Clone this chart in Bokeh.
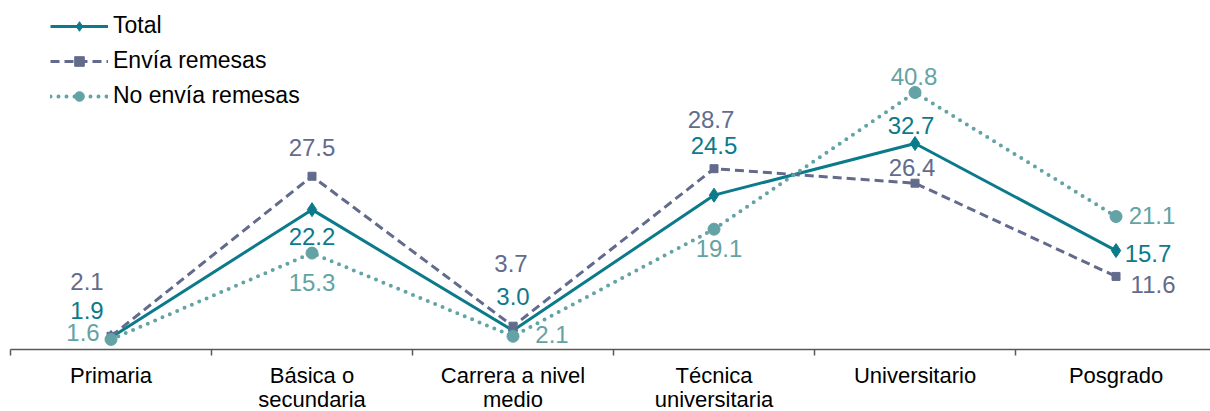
from bokeh.plotting import figure
from bokeh.models import Range1d, FixedTicker, ColumnDataSource, Legend, LegendItem
from bokeh.core.properties import value
from bokeh.embed import file_html
from bokeh.resources import INLINE

categories = ["Primaria", "Básica o\nsecundaria", "Carrera a nivel\nmedio",
              "Técnica\nuniversitaria", "Universitario", "Posgrado"]
total = [1.9, 22.2, 3.0, 24.5, 32.7, 15.7]
envia = [2.1, 27.5, 3.7, 28.7, 26.4, 11.6]
no_envia = [1.6, 15.3, 2.1, 19.1, 40.8, 21.1]
series_names = ["Total", "Envía remesas", "No envía remesas"]

# label offsets in px (style, not data)
off_total = [(-24, -27), (0, 27), (0, -34), (0, -50), (-4, -18), (32, 3)]
off_envia = [(-24, -55), (0, -29), (-2, -63), (-3, -49), (-3, -16), (37, 8)]
off_no = [(-28, -7), (0, 29), (39, -2), (5, 19), (-1, -16), (36, -1)]

FONT = "Liberation Sans"
C_TOTAL = "#0b7a8a"
C_ENVIA = "#636b8d"
C_NO = "#63a3a5"

xs = list(range(len(categories)))

p = figure(width=1210, height=414, output_backend="svg", toolbar_location=None,
           x_range=Range1d(-0.5, 5.47), y_range=Range1d(0, 55.4),
           min_border_left=10, min_border_right=0, min_border_top=0, min_border_bottom=62,
           styles={"margin-bottom": "-30px"})
p.outline_line_color = None
p.xgrid.visible = False
p.ygrid.visible = False
p.yaxis.visible = False
p.background_fill_color = "white"
p.border_fill_color = "white"

xa = p.xaxis[0]
xa.ticker = FixedTicker(ticks=xs, minor_ticks=[i - 0.5 for i in range(len(categories) + 1)])
xa.major_label_overrides = {i: c for i, c in enumerate(categories)}
xa.major_tick_out = 0
xa.major_tick_in = 0
xa.minor_tick_out = 6
xa.minor_tick_in = 0
xa.minor_tick_line_color = "#595959"
xa.axis_line_color = "#595959"
xa.axis_line_width = 1.5
xa.minor_tick_line_width = 1.5
xa.major_label_text_font = FONT
xa.major_label_text_font_size = "22px"
xa.major_label_text_color = "#000000"
xa.major_label_standoff = 7
xa.major_label_text_line_height = 0.96

# lines
l_tot = p.line(xs, total, line_color=C_TOTAL, line_width=3)
m_tot = p.scatter(xs, total, marker="diamond", size=14,
                  fill_color=C_TOTAL, line_color=C_TOTAL)
l_env = p.line(xs, envia, line_color=C_ENVIA, line_width=3, line_dash="9 5")
m_env = p.scatter(xs, envia, marker="square", size=8, fill_color=C_ENVIA, line_color=C_ENVIA)
l_no = p.line(xs, no_envia, line_color=C_NO, line_width=4, line_dash="0 8", line_cap="round")
m_no = p.scatter(xs, no_envia, marker="circle", size=12, fill_color=C_NO, line_color=C_NO)

def add_labels(vals, offs, color):
    src = ColumnDataSource(dict(x=xs, y=vals, t=[f"{v:.1f}" for v in vals],
                                dx=[o[0] for o in offs], dy=[o[1] for o in offs]))
    p.text(x="x", y="y", text="t", x_offset="dx", y_offset="dy", source=src,
           text_align="center", text_baseline="middle", text_color=color,
           text_font=value(FONT), text_font_size="24px")

add_labels(envia, off_envia, C_ENVIA)
add_labels(no_envia, off_no, C_NO)
add_labels(total, off_total, C_TOTAL)

legend = Legend(items=[LegendItem(label=series_names[0], renderers=[l_tot, m_tot]),
                       LegendItem(label=series_names[1], renderers=[l_env, m_env]),
                       LegendItem(label=series_names[2], renderers=[l_no, m_no])],
                location=(40, 240))
legend.margin = 0
legend.padding = 0
legend.spacing = 8
legend.glyph_width = 58
legend.glyph_height = 24
legend.label_height = 24
legend.label_standoff = 5
legend.label_text_font = FONT
legend.label_text_font_size = "23px"
legend.label_text_color = "#000000"
legend.label_text_baseline = "middle"
legend.border_line_color = None
legend.background_fill_alpha = 0
p.add_layout(legend)

open("out.html", "w").write(file_html(p, INLINE))
